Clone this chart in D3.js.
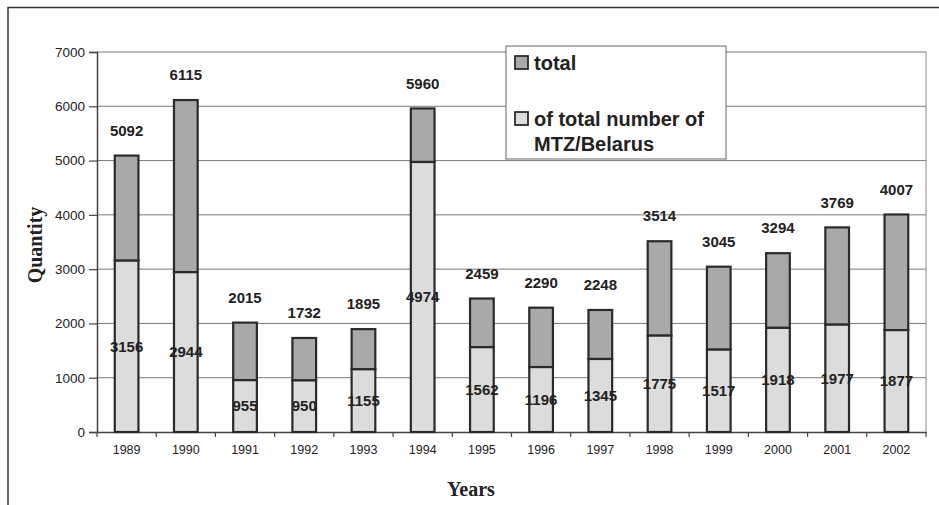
<!DOCTYPE html>
<html><head><meta charset="utf-8">
<script src="https://cdn.jsdelivr.net/npm/d3@7"></script>
<style>body{margin:0;background:#fff}svg{display:block}</style>
</head><body>
<svg id="c" width="939" height="505"></svg>
<script>
const years = ["1989","1990","1991","1992","1993","1994","1995","1996","1997","1998","1999","2000","2001","2002"];
const totals = [5092,6115,2015,1732,1895,5960,2459,2290,2248,3514,3045,3294,3769,4007];
const mtz = [3156,2944,955,950,1155,4974,1562,1196,1345,1775,1517,1918,1977,1877];
const yTicks = [0,1000,2000,3000,4000,5000,6000,7000];
const legendLabels = ["total", ["of total number of","MTZ/Belarus"]];

const svg = d3.select("#c");
const L = 97, R = 926, T = 52, B = 432;
const x = d3.scaleBand().domain(years).range([L, R]).paddingInner(0.6).paddingOuter(0.3);
const y = d3.scaleLinear().domain([0, 7000]).range([B, T]);
const step = x.step(), bw = x.bandwidth();
const darkFill = "#a9a9a9", lightFill = "#dcdcdc", edge = "#2a2a2a";

// outer frame
svg.append("path").attr("d", `M8,505 L8,7.5 L939,7.5`).attr("fill","none").attr("stroke","#333").attr("stroke-width",1.5);

// gridlines
svg.append("g").selectAll("line").data(yTicks.filter(d=>d>0)).join("line")
  .attr("x1", L).attr("x2", R).attr("y1", d=>y(d)).attr("y2", d=>y(d))
  .attr("stroke", "#7a7a7a").attr("stroke-width", 1);
// right border of plot
svg.append("line").attr("x1",R).attr("x2",R).attr("y1",T).attr("y2",B).attr("stroke","#8a8a8a").attr("stroke-width",1);

// y axis
const yAxis = d3.axisLeft(y).tickValues(yTicks).tickSize(8).tickPadding(4).tickFormat(d3.format("d"));
const gy = svg.append("g").attr("transform", `translate(${L},0)`).call(yAxis);
gy.select(".domain").attr("stroke","#444").attr("stroke-width",1.5);
gy.selectAll(".tick line").attr("stroke","#444").attr("stroke-width",1.2);
gy.selectAll(".tick text").attr("font-family","Liberation Sans, Arial, sans-serif").attr("font-size",13.5).attr("fill","#222");

// x axis
const xAxis = d3.axisBottom(x).tickSize(0).tickPadding(13);
const gx = svg.append("g").attr("transform", `translate(0,${B})`).call(xAxis);
gx.select(".domain").attr("stroke","#444").attr("stroke-width",1.5);
gx.selectAll(".tick text").attr("font-family","Liberation Sans, Arial, sans-serif").attr("font-size",12.5).attr("fill","#222");
// tick marks between categories
gx.append("g").selectAll("line").data(d3.range(years.length + 1)).join("line")
  .attr("x1", i => L + i*step).attr("x2", i => L + i*step).attr("y1", 0).attr("y2", 5)
  .attr("stroke","#444").attr("stroke-width",1.2);

// bars
const rows = years.map((yr,i)=>({yr, total: totals[i], mtz: mtz[i]}));
const g = svg.append("g");
g.selectAll("rect.top").data(rows).join("rect").attr("class","top")
  .attr("x", d=>x(d.yr)).attr("width", bw)
  .attr("y", d=>y(d.total)).attr("height", d=>y(d.mtz)-y(d.total))
  .attr("fill", darkFill).attr("stroke", edge).attr("stroke-width", 2.2);
g.selectAll("rect.bot").data(rows).join("rect").attr("class","bot")
  .attr("x", d=>x(d.yr)).attr("width", bw)
  .attr("y", d=>y(d.mtz)).attr("height", d=>y(0)-y(d.mtz))
  .attr("fill", lightFill).attr("stroke", edge).attr("stroke-width", 2.2);

// labels
const lf = "Liberation Sans, Arial, sans-serif";
g.selectAll("text.tl").data(rows).join("text").attr("class","tl")
  .attr("x", d=>x(d.yr)+bw/2).attr("y", d=>y(d.total)-25).attr("dy","0.35em")
  .attr("text-anchor","middle").attr("font-family",lf).attr("font-weight","bold").attr("font-size",15).attr("fill","#222")
  .text(d=>d.total);
g.selectAll("text.ml").data(rows).join("text").attr("class","ml")
  .attr("x", d=>x(d.yr)+bw/2).attr("y", d=>y(d.mtz/2)).attr("dy","0.35em")
  .attr("text-anchor","middle").attr("font-family",lf).attr("font-weight","bold").attr("font-size",15).attr("fill","#222")
  .text(d=>d.mtz);

// axis titles
svg.append("text").attr("transform","translate(42,245) rotate(-90)").attr("text-anchor","middle")
  .attr("font-family","Liberation Serif, Times New Roman, serif").attr("font-weight","bold").attr("font-size",20).attr("fill","#222").text("Quantity");
svg.append("text").attr("x",471).attr("y",496).attr("text-anchor","middle")
  .attr("font-family","Liberation Serif, Times New Roman, serif").attr("font-weight","bold").attr("font-size",20).attr("fill","#222").text("Years");

// legend
const lg = svg.append("g");
lg.append("rect").attr("x",506).attr("y",46).attr("width",220).attr("height",113).attr("fill","#fff").attr("stroke","#666").attr("stroke-width",1);
const sw = [{fill: darkFill, y: 56, lines: [legendLabels[0]]}, {fill: lightFill, y: 112, lines: legendLabels[1]}];
sw.forEach(s => {
  lg.append("rect").attr("x",515).attr("y",s.y).attr("width",13).attr("height",13).attr("fill",s.fill).attr("stroke",edge).attr("stroke-width",1.8);
  const t = lg.append("text").attr("x",534).attr("y",s.y+6.5).attr("dy","0.35em")
    .attr("font-family",lf).attr("font-weight","bold").attr("font-size",20).attr("fill","#222");
  s.lines.forEach((ln,i)=> t.append("tspan").attr("x",534).attr("dy", i===0 ? "0.35em" : "25").text(ln));
});
</script>
</body></html>
